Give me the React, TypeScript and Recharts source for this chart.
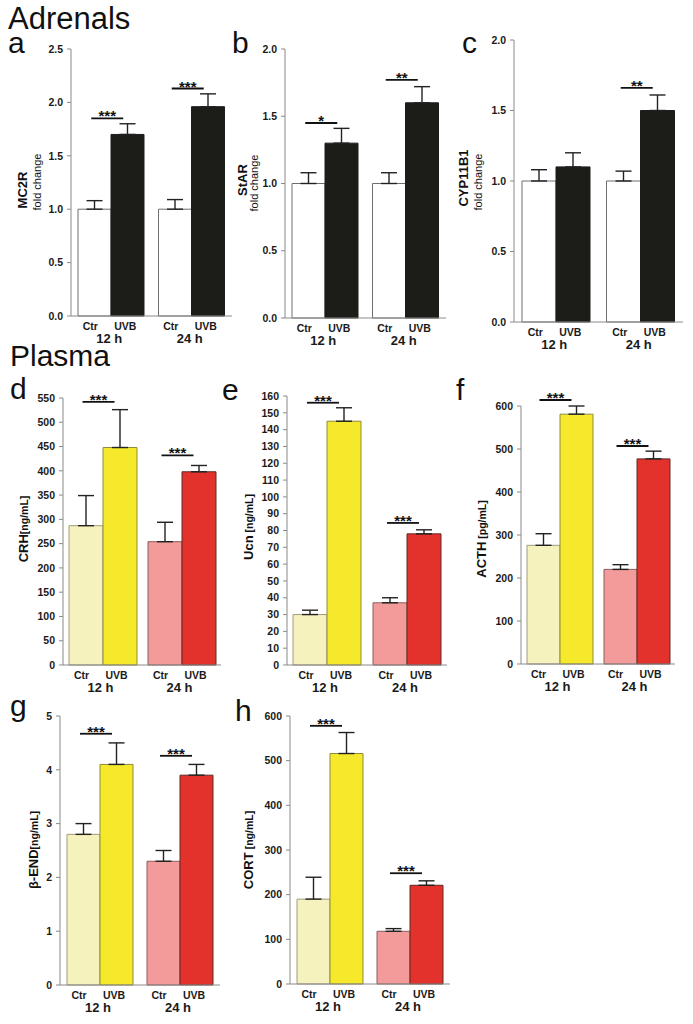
import React from "react";
import { BarChart, Bar, XAxis, YAxis, ErrorBar, Cell, ReferenceDot } from "recharts";

const FONT = "'Liberation Sans', Arial, Helvetica, sans-serif";

const groups = ["12 h", "24 h"];
const subLabels = ["Ctr", "UVB"];

// a - MC2R fold change
const mc2rCtr = [1.0, 1.0];
const mc2rCtrErr = [0.08, 0.09];
const mc2rUvb = [1.7, 1.96];
const mc2rUvbErr = [0.1, 0.12];
const mc2rSig = [1.85, 2.13];
const mc2rStars = ["***", "***"];
const mc2rTicks = [0, 0.5, 1, 1.5, 2, 2.5];

// b - StAR fold change
const starCtr = [1.0, 1.0];
const starCtrErr = [0.08, 0.08];
const starUvb = [1.3, 1.6];
const starUvbErr = [0.11, 0.12];
const starSig = [1.45, 1.77];
const starStars = ["*", "**"];
const starTicks = [0, 0.5, 1, 1.5, 2];

// c - CYP11B1 fold change
const cypCtr = [1.0, 1.0];
const cypCtrErr = [0.08, 0.07];
const cypUvb = [1.1, 1.5];
const cypUvbErr = [0.1, 0.11];
const cypSig = [null, 1.66];
const cypStars = ["", "**"];
const cypTicks = [0, 0.5, 1, 1.5, 2];

// d - CRH
const crhCtr = [287, 254];
const crhCtrErr = [62, 40];
const crhUvb = [448, 398];
const crhUvbErr = [78, 13];
const crhSig = [542, 432];
const crhStars = ["***", "***"];
const crhTicks = [0, 50, 100, 150, 200, 250, 300, 350, 400, 450, 500, 550];

// e - Ucn
const ucnCtr = [30, 37];
const ucnCtrErr = [2.6, 3];
const ucnUvb = [145, 78];
const ucnUvbErr = [8, 2.4];
const ucnSig = [156, 84.5];
const ucnStars = ["***", "***"];
const ucnTicks = [0, 10, 20, 30, 40, 50, 60, 70, 80, 90, 100, 110, 120, 130, 140, 150, 160];

// f - ACTH
const acthCtr = [276, 220];
const acthCtrErr = [27, 11];
const acthUvb = [581, 477];
const acthUvbErr = [19, 18];
const acthSig = [614, 507];
const acthStars = ["***", "***"];
const acthTicks = [0, 100, 200, 300, 400, 500, 600];

// g - beta-END
const endCtr = [2.8, 2.3];
const endCtrErr = [0.2, 0.2];
const endUvb = [4.1, 3.9];
const endUvbErr = [0.4, 0.2];
const endSig = [4.67, 4.26];
const endStars = ["***", "***"];
const endTicks = [0, 1, 2, 3, 4, 5];

// h - CORT
const cortCtr = [190, 118];
const cortCtrErr = [49, 6];
const cortUvb = [516, 221];
const cortUvbErr = [47, 10];
const cortSig = [578, 248];
const cortStars = ["***", "***"];
const cortTicks = [0, 100, 200, 300, 400, 500, 600];

const adrenalCtrFill = ["#ffffff", "#ffffff"];
const adrenalCtrStroke = ["#6e6e6e", "#6e6e6e"];
const adrenalUvbFill = ["#1c1c19", "#1c1c19"];
const adrenalUvbStroke = ["#1c1c19", "#1c1c19"];
const plasmaCtrFill = ["#f6f2bd", "#f39b9a"];
const plasmaCtrStroke = ["#9f9b7c", "#8a5c5c"];
const plasmaUvbFill = ["#f6e92b", "#e3312b"];
const plasmaUvbStroke = ["#8f8a3c", "#5e2a27"];

function GroupTick(props: any) {
  const { x, y, payload } = props;
  const st = { fontFamily: FONT, fontWeight: 700, fill: "#1a1a1a" } as const;
  return (
    <g>
      <text x={x - 21} y={y + 14} textAnchor="middle" fontSize={10.5} style={st}>
        {subLabels[0]}
      </text>
      <text x={x + 14} y={y + 14} textAnchor="middle" fontSize={10.5} style={st}>
        {subLabels[1]}
      </text>
      <text x={x - 2} y={y + 27} textAnchor="middle" fontSize={13} style={st}>
        {payload.value}
      </text>
    </g>
  );
}

function SigMark(props: any) {
  const { cx, cy, stars } = props;
  if (cx == null || cy == null || isNaN(cy)) return <g />;
  return (
    <g>
      <line x1={cx - 20} y1={cy} x2={cx + 12} y2={cy} stroke="#111" strokeWidth={1.8} />
      <text
        x={cx - 4}
        y={cy + 3}
        textAnchor="middle"
        fontSize={15}
        fontWeight={700}
        fontFamily={FONT}
        fill="#111">
        {stars}
      </text>
    </g>
  );
}

type PanelProps = {
  ctr: number[];
  ctrErr: number[];
  uvb: number[];
  uvbErr: number[];
  sig: (number | null)[];
  stars: string[];
  ticks: number[];
  decimals: number;
  plotLeft: number;
  yTop: number;
  y0: number;
  plotRight: number;
  gap: number;
  ctrFill: string[];
  ctrStroke: string[];
  uvbFill: string[];
  uvbStroke: string[];
};

function Panel(p: PanelProps) {
  const left = p.plotLeft - 50;
  const top = p.yTop - 30;
  const width = p.plotRight - left + 6;
  const height = p.y0 - top + 40;
  const data = groups.map((g, i) => ({
    group: g,
    ctr: p.ctr[i],
    ctrErr: [0, p.ctrErr[i]],
    uvb: p.uvb[i],
    uvbErr: [0, p.uvbErr[i]],
  }));
  const max = p.ticks[p.ticks.length - 1];
  return (
    <div style={{ position: "absolute", left, top, width, height }}>
      <BarChart
        width={width}
        height={height}
        data={data}
        barCategoryGap={p.gap}
        barGap={0}
        margin={{ top: 30, right: 6, left: 10, bottom: 4 }}>
        <XAxis
          dataKey="group"
          interval={0}
          tickLine={false}
          tickSize={0}
          tickMargin={0}
          height={36}
          axisLine={{ stroke: "#8a8a8a" }}
          tick={(t: any) => <GroupTick {...t} />}
        />
        <YAxis
          type="number"
          domain={[0, max]}
          ticks={p.ticks}
          interval={0}
          width={40}
          tickSize={4}
          tickMargin={4}
          axisLine={{ stroke: "#8a8a8a" }}
          tickLine={{ stroke: "#8a8a8a" }}
          tickFormatter={(v: number) => v.toFixed(p.decimals)}
          tick={{ fontSize: 10.5, fontWeight: 700, fill: "#1a1a1a", fontFamily: FONT }}
        />
        <Bar dataKey="ctr" isAnimationActive={false} strokeWidth={1}>
          {data.map((d, i) => (
            <Cell key={d.group} fill={p.ctrFill[i]} stroke={p.ctrStroke[i]} />
          ))}
          <ErrorBar dataKey="ctrErr" width={8} stroke="#222" strokeWidth={1.4} direction="y" />
        </Bar>
        <Bar dataKey="uvb" isAnimationActive={false} strokeWidth={1}>
          {data.map((d, i) => (
            <Cell key={d.group} fill={p.uvbFill[i]} stroke={p.uvbStroke[i]} />
          ))}
          <ErrorBar dataKey="uvbErr" width={8} stroke="#222" strokeWidth={1.4} direction="y" />
        </Bar>
        {groups.map((g, i) =>
          p.sig[i] == null ? null : (
            <ReferenceDot
              key={g}
              x={g}
              y={p.sig[i] as number}
              r={1}
              ifOverflow="visible"
              shape={(s: any) => <SigMark cx={s.cx} cy={s.cy} stars={p.stars[i]} />}
            />
          )
        )}
      </BarChart>
    </div>
  );
}

const txt = { fontFamily: FONT, fill: "#111" } as const;

function VLabel(props: { x: number; y: number; children: React.ReactNode; size: number; bold?: boolean }) {
  return (
    <text
      transform={`translate(${props.x},${props.y}) rotate(-90)`}
      textAnchor="middle"
      fontSize={props.size}
      fontWeight={props.bold ? 700 : 400}
      style={txt}>
      {props.children}
    </text>
  );
}

function UnitLabel(props: { x: number; y: number; main: string; unit: string }) {
  return (
    <text
      transform={`translate(${props.x},${props.y}) rotate(-90)`}
      textAnchor="middle"
      fontWeight={700}
      style={txt}>
      <tspan fontSize={13}>{props.main}</tspan>
      <tspan fontSize={10.5}>{props.unit}</tspan>
    </text>
  );
}

export default function App() {
  const adrenal = {
    ctrFill: adrenalCtrFill,
    ctrStroke: adrenalCtrStroke,
    uvbFill: adrenalUvbFill,
    uvbStroke: adrenalUvbStroke,
    decimals: 1,
  };
  const plasma = {
    ctrFill: plasmaCtrFill,
    ctrStroke: plasmaCtrStroke,
    uvbFill: plasmaUvbFill,
    uvbStroke: plasmaUvbStroke,
    decimals: 0,
  };
  return (
    <div
      style={{
        position: "absolute",
        left: 0,
        top: 0,
        width: 693,
        height: 1024,
        background: "#fff",
        overflow: "hidden",
      }}>
      <Panel {...adrenal} ctr={mc2rCtr} ctrErr={mc2rCtrErr} uvb={mc2rUvb} uvbErr={mc2rUvbErr}
        sig={mc2rSig} stars={mc2rStars} ticks={mc2rTicks}
        plotLeft={71} yTop={49} y0={316} plotRight={232} gap={7} />
      <Panel {...adrenal} ctr={starCtr} ctrErr={starCtrErr} uvb={starUvb} uvbErr={starUvbErr}
        sig={starSig} stars={starStars} ticks={starTicks}
        plotLeft={285} yTop={49} y0={318} plotRight={446} gap={7} />
      <Panel {...adrenal} ctr={cypCtr} ctrErr={cypCtrErr} uvb={cypUvb} uvbErr={cypUvbErr}
        sig={cypSig} stars={cypStars} ticks={cypTicks}
        plotLeft={514} yTop={40} y0={322} plotRight={683} gap={8} />
      <Panel {...plasma} ctr={crhCtr} ctrErr={crhCtrErr} uvb={crhUvb} uvbErr={crhUvbErr}
        sig={crhSig} stars={crhStars} ticks={crhTicks}
        plotLeft={63} yTop={398} y0={665} plotRight={221} gap={6} />
      <Panel {...plasma} ctr={ucnCtr} ctrErr={ucnCtrErr} uvb={ucnUvb} uvbErr={ucnUvbErr}
        sig={ucnSig} stars={ucnStars} ticks={ucnTicks}
        plotLeft={287} yTop={396} y0={665} plotRight={447} gap={6} />
      <Panel {...plasma} ctr={acthCtr} ctrErr={acthCtrErr} uvb={acthUvb} uvbErr={acthUvbErr}
        sig={acthSig} stars={acthStars} ticks={acthTicks}
        plotLeft={521} yTop={406} y0={664} plotRight={675} gap={6} />
      <Panel {...plasma} ctr={endCtr} ctrErr={endCtrErr} uvb={endUvb} uvbErr={endUvbErr}
        sig={endSig} stars={endStars} ticks={endTicks}
        plotLeft={60} yTop={716} y0={985} plotRight={220} gap={7} />
      <Panel {...plasma} ctr={cortCtr} ctrErr={cortCtrErr} uvb={cortUvb} uvbErr={cortUvbErr}
        sig={cortSig} stars={cortStars} ticks={cortTicks}
        plotLeft={290} yTop={716} y0={984} plotRight={450} gap={7} />

      <svg
        width={693}
        height={1024}
        style={{ position: "absolute", left: 0, top: 0, pointerEvents: "none" }}>
        <text x={8} y={29} fontSize={31} style={txt}>Adrenals</text>
        <text x={10} y={366} fontSize={30} style={txt}>Plasma</text>

        <text x={8} y={53} fontSize={30} style={txt}>a</text>
        <text x={232} y={53} fontSize={30} style={txt}>b</text>
        <text x={462} y={53} fontSize={30} style={txt}>c</text>
        <text x={10} y={399} fontSize={30} style={txt}>d</text>
        <text x={222} y={400} fontSize={30} style={txt}>e</text>
        <text x={456} y={400} fontSize={30} style={txt}>f</text>
        <text x={10} y={716} fontSize={30} style={txt}>g</text>
        <text x={235} y={721} fontSize={30} style={txt}>h</text>

        <VLabel x={27} y={190} size={13} bold>MC2R</VLabel>
        <VLabel x={41} y={182} size={11}>fold change</VLabel>
        <VLabel x={247} y={180} size={13} bold>StAR</VLabel>
        <VLabel x={258} y={183} size={11}>fold change</VLabel>
        <VLabel x={468} y={178} size={13} bold>CYP11B1</VLabel>
        <VLabel x={482} y={182} size={11}>fold change</VLabel>

        <UnitLabel x={28} y={529} main="CRH" unit="[ng/mL]" />
        <UnitLabel x={253} y={527} main="Ucn" unit=" [ng/mL]" />
        <UnitLabel x={486} y={539} main="ACTH" unit=" [pg/mL]" />
        <UnitLabel x={38} y={850} main="β-END" unit="[ng/mL]" />
        <UnitLabel x={253} y={850} main="CORT" unit=" [ng/mL]" />
      </svg>
    </div>
  );
}
